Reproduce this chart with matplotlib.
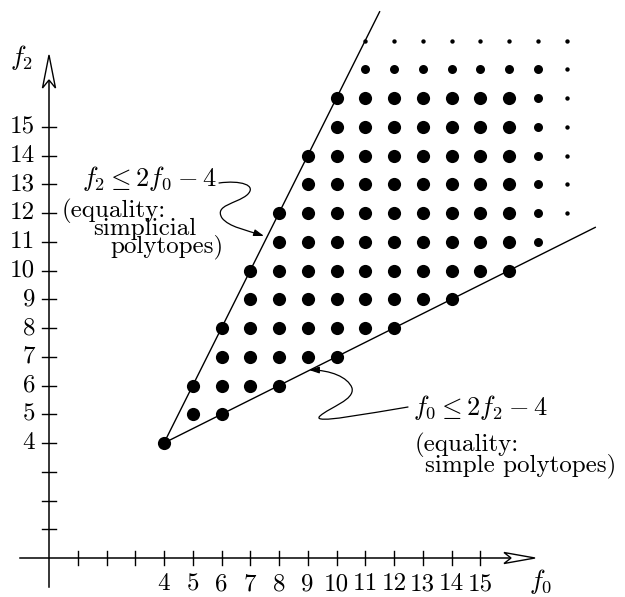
import numpy as np
import matplotlib
matplotlib.use("Agg")
import matplotlib.pyplot as plt
from matplotlib.path import Path
from matplotlib.patches import FancyArrowPatch, Polygon

plt.rcParams['mathtext.fontset'] = 'cm'

# rows of f-vectors (f0, f2) of 3-polytopes: for each f2, first and last f0 shown
f2_rows = [4, 5, 6, 7, 8, 9, 10, 11, 12, 13, 14, 15, 16, 17, 18]
f0_first = [4, 5, 5, 6, 6, 7, 7, 8, 8, 9, 9, 10, 10, 11, 11]
f0_last = [4, 6, 8, 10, 12, 14, 16, 17, 18, 18, 18, 18, 18, 18, 18]

# boundary lines f2 = 2f0 - 4 and f0 = 2f2 - 4
simp_f0 = [4, 11.5]
simp_f2 = [4, 19]
simple_f0 = [4, 19]
simple_f2 = [4, 11.5]

tick_vals = list(range(1, 16))
tick_labels = [str(v) if v >= 4 else '' for v in tick_vals]

# pixel -> data helpers (28.75 px per unit, origin at pixel (49, 558))
U = 28.75
def px(x, y):
    return ((x - 49) / U, (558 - y) / U)

fig = plt.figure(figsize=(6.25, 5.97), dpi=100)
ax = fig.add_axes([0, 0, 1, 1])
ax.set_xlim(-49 / U, (625 - 49) / U)
ax.set_ylim((558 - 597) / U, 558 / U)
ax.axis('off')

# dots
big_x, big_y, mid_x, mid_y, sm_x, sm_y = [], [], [], [], [], []
for f2, a, b in zip(f2_rows, f0_first, f0_last):
    for f0 in range(a, b + 1):
        m = max(f0, f2)
        if m <= 16:
            big_x.append(f0); big_y.append(f2)
        elif m == 17:
            mid_x.append(f0); mid_y.append(f2)
        else:
            sm_x.append(f0); sm_y.append(f2)
ax.scatter(big_x, big_y, s=90, c='black', linewidths=0, zorder=3)
ax.scatter(mid_x, mid_y, s=42, c='black', linewidths=0, zorder=3)
ax.scatter(sm_x, sm_y, s=10, c='black', linewidths=0, zorder=3)

# boundary lines
ax.plot(simp_f0, simp_f2, color='black', lw=1.0, zorder=2)
ax.plot(simple_f0, simple_f2, color='black', lw=1.0, zorder=2)

# axes with open arrow heads
x0, yb = px(49, 587)
ax.plot([0, 0], [yb, px(49, 80)[1]], color='black', lw=1.1)
ax.plot([px(20, 0)[0], px(512, 0)[0]], [0, 0], color='black', lw=1.1)
yhead = [px(49, 55), px(55.5, 88), px(49, 80), px(42.5, 88)]
xhead = [px(535, 558), px(504, 552.5), px(511, 558), px(504, 563.5)]
for h in (yhead, xhead):
    ax.add_patch(Polygon(h, closed=True, facecolor='white', edgecolor='black',
                         lw=1.0, zorder=4))

FS = 18
tl = 7 / U
for v, lab in zip(tick_vals, tick_labels):
    ax.plot([v, v], [-tl, tl], color='black', lw=1.0)
    ax.plot([-tl, tl], [v, v], color='black', lw=1.0)
    if lab:
        ax.text(v, px(0, 573)[1], lab, ha='center', va='top',
                fontfamily='cmr10', fontsize=FS)
        ax.text(px(35, 0)[0], v, lab, ha='right', va='center',
                fontfamily='cmr10', fontsize=FS)

ax.text(*px(22, 57), r'$f_2$', ha='center', va='center', fontsize=19)
ax.text(*px(541, 582), r'$f_0$', ha='center', va='center', fontsize=19)

# annotation 1 (simplicial)
ax.text(*px(82, 186), r'$f_2 \leq 2f_0 - 4$', ha='left', va='baseline', fontsize=19)
ax.text(*px(62, 217), '(equality:', ha='left', va='baseline',
        fontfamily='cmr10', fontsize=FS)
ax.text(*px(93, 235), 'simplicial', ha='left', va='baseline',
        fontfamily='cmr10', fontsize=FS)
ax.text(*px(110, 252), 'polytopes)', ha='left', va='baseline',
        fontfamily='cmr10', fontsize=FS)

p1 = [px(219, 183), px(240, 180), px(258, 185), px(247, 195),
      px(236, 204), px(214, 205), px(222, 218),
      px(229, 227), px(246, 230), px(264, 236)]
codes = [Path.MOVETO] + [Path.CURVE4] * 9
ax.add_patch(FancyArrowPatch(path=Path(p1, codes), arrowstyle='-|>,head_length=6,head_width=2',
                             color='black', lw=0.9, zorder=5))

# annotation 2 (simple)
ax.text(*px(413, 415), r'$f_0 \leq 2f_2 - 4$', ha='left', va='baseline', fontsize=19)
ax.text(*px(415, 451), '(equality:', ha='left', va='baseline',
        fontfamily='cmr10', fontsize=FS)
ax.text(*px(425, 471), 'simple polytopes)', ha='left', va='baseline',
        fontfamily='cmr10', fontsize=FS)

p2 = [px(408, 407), px(370, 413), px(310, 425), px(320, 416),
      px(330, 407), px(355, 400), px(352, 388),
      px(348, 377), px(330, 370), px(309, 370)]
ax.add_patch(FancyArrowPatch(path=Path(p2, codes), arrowstyle='-|>,head_length=6,head_width=2',
                             color='black', lw=0.9, zorder=5))

fig.savefig('out.png', dpi=100)
